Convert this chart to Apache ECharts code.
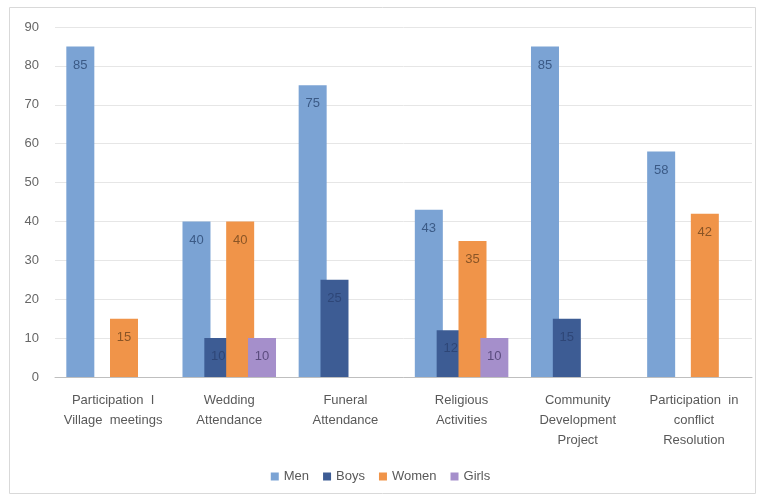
<!DOCTYPE html>
<html>
<head>
<meta charset="utf-8">
<script src="https://cdn.jsdelivr.net/npm/echarts@6/dist/echarts.min.js"></script>
<style>html,body{margin:0;padding:0;background:#fff}#c{width:761px;height:497px}</style>
</head>
<body>
<div id="c"></div>
<script>
var categories = ["Participation  I\nVillage  meetings", "Wedding\nAttendance", "Funeral\nAttendance", "Religious\nActivities", "Community\nDevelopment\nProject", "Participation  in\nconflict\nResolution"];
var men   = [85, 40, 75, 43, 85, 58];
var boys  = [null, 10, 25, 12, 15, null];
var women = [15, 40, null, 35, null, 42];
var girls = [null, 10, null, 10, null, null];
var yTicks = [0, 10, 20, 30, 40, 50, 60, 70, 80, 90];

var chart = echarts.init(document.getElementById('c'), null, {renderer: 'canvas'});
function mk(name, data, color, lblColor) {
  return {
    name: name, type: 'bar', data: data, barWidth: 28, barGap: '-22%',
    itemStyle: {color: color},
    label: {show: true, position: 'insideTop', distance: 12, color: lblColor, fontSize: 13, fontFamily: 'Liberation Sans'}
  };
}
chart.setOption({
  animation: false,
  textStyle: {fontFamily: 'Liberation Sans'},
  graphic: [{type: 'rect', shape: {x: 9.5, y: 7.5, width: 746, height: 486}, style: {fill: 'none', stroke: '#d9d9d9', lineWidth: 1}, z: -1}],
  grid: {left: 55, right: 9, top: 27, bottom: 120},
  legend: {
    bottom: 9, left: 'center', itemWidth: 8, itemHeight: 8, itemGap: 14,
    icon: 'rect', textStyle: {color: '#595959', fontSize: 13},
    data: ['Men', 'Boys', 'Women', 'Girls']
  },
  xAxis: {
    type: 'category', data: categories,
    axisLine: {lineStyle: {color: '#bfbfbf'}},
    axisTick: {show: false},
    axisLabel: {color: '#595959', fontSize: 13, lineHeight: 20, margin: 13, interval: 0}
  },
  yAxis: {
    type: 'value', min: 0, max: 90, interval: 10,
    axisLine: {show: false}, axisTick: {show: false},
    axisLabel: {color: '#666666', fontSize: 13, margin: 16, formatter: function(v){ return yTicks.indexOf(v) >= 0 ? String(v) : ''; }},
    splitLine: {lineStyle: {color: '#e6e6e6'}}
  },
  series: [
    mk('Men', men, '#7BA3D4', '#3b5a86'),
    mk('Boys', boys, '#3D5C94', '#2e4677'),
    mk('Women', women, '#F09449', '#8a5526'),
    mk('Girls', girls, '#A58FCB', '#5b4c7e')
  ]
});
</script>
</body>
</html>
